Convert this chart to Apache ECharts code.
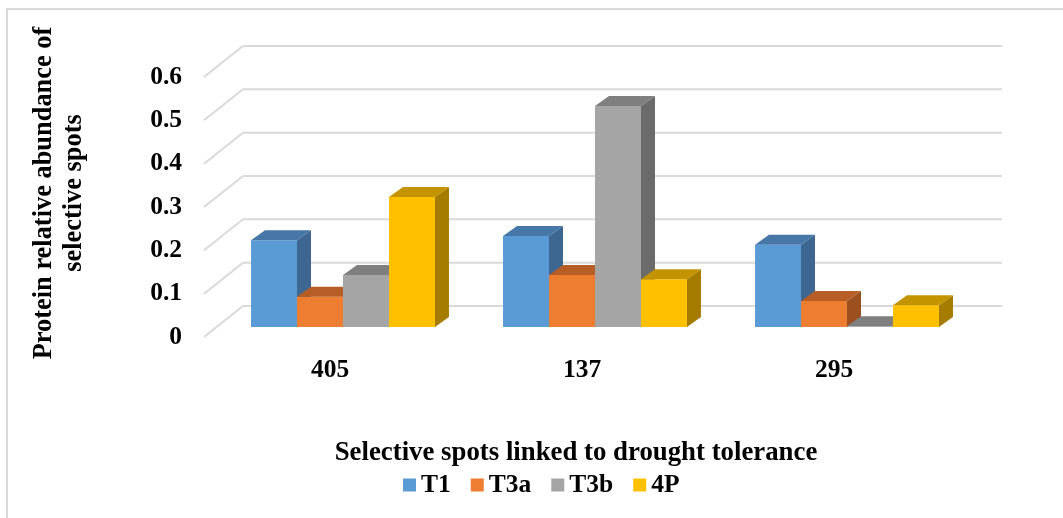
<!DOCTYPE html>
<html>
<head>
<meta charset="utf-8">
<script src="https://cdn.jsdelivr.net/npm/echarts@6/dist/echarts.min.js"></script>
<style>html,body{margin:0;padding:0;background:#fff}#c{width:1063px;height:518px}</style>
</head>
<body>
<div id="c"></div>
<script>
const categories = ['405', '137', '295'];
const seriesNames = ['T1', 'T3a', 'T3b', '4P'];
const T1 = [0.20, 0.21, 0.19];
const T3a = [0.07, 0.12, 0.06];
const T3b = [0.12, 0.51, 0.002];
const P4 = [0.30, 0.11, 0.05];
const yTicks = [0, 0.1, 0.2, 0.3, 0.4, 0.5, 0.6];

const values = [T1, T3a, T3b, P4];
const frontColors = ['#5b9bd5', '#ed7d31', '#a5a5a5', '#ffc000'];
const topColors = ['#4677a6', '#b65e25', '#7f7f7f', '#c49300'];
const sideColors = ['#3d6690', '#9c501f', '#6b6b6b', '#a67c00'];

const FONT = '"Liberation Serif", "Times New Roman", serif';
const FX = 13, FY = -10;   // bar front-face offset from the front plane
const DX = 14, DY = -10;   // bar depth
const WX = 39, WY = -31;   // back-wall offset
const GROUP = 0.73;

const chart = echarts.init(document.getElementById('c'));

function barRender(si) {
  return function (params, api) {
    const ci = api.value(0), v = api.value(1);
    const base = api.coord([ci, 0]);
    const top = api.coord([ci, v]);
    const band = api.size([1, 0])[0];
    const gw = band * GROUP, bw = gw / 4;
    const x1 = base[0] - gw / 2 + si * bw + FX, x2 = x1 + bw;
    const yb = base[1] + FY, yt = top[1] + FY;
    return {
      type: 'group',
      children: [
        { type: 'polygon', shape: { points: [[x2, yt], [x2 + DX, yt + DY], [x2 + DX, yb + DY], [x2, yb]] }, style: { fill: sideColors[si] } },
        { type: 'rect', shape: { x: x1, y: yt, width: bw, height: yb - yt }, style: { fill: frontColors[si] } },
        { type: 'polygon', shape: { points: [[x1, yt], [x2, yt], [x2 + DX, yt + DY], [x1 + DX, yt + DY]] }, style: { fill: topColors[si] } }
      ]
    };
  };
}

const series = [{
  type: 'custom',
  name: 'grid',
  silent: true,
  z: 1,
  data: yTicks.map(v => [0, v]),
  encode: { x: 0, y: 1 },
  renderItem: function (params, api) {
    const cs = params.coordSys;
    const p = api.coord([0, api.value(1)]);
    const x0 = cs.x, y = p[1];
    const st = { stroke: '#d9d9d9', lineWidth: 2 };
    return {
      type: 'group',
      children: [
        { type: 'line', shape: { x1: x0, y1: y, x2: x0 + WX, y2: y + WY }, style: st },
        { type: 'line', shape: { x1: x0 + WX, y1: y + WY, x2: x0 + cs.width + WX + 3, y2: y + WY }, style: st }
      ]
    };
  }
}];

seriesNames.forEach((n, si) => {
  series.push({
    type: 'custom',
    name: n,
    z: 2 + si,
    itemStyle: { color: frontColors[si] },
    data: values[si].map((v, ci) => [ci, v]),
    encode: { x: 0, y: 1 },
    renderItem: barRender(si)
  });
});

chart.setOption({
  animation: false,
  color: frontColors,
  grid: { left: 204, right: 103, top: 77, bottom: 181 },
  xAxis: {
    type: 'category',
    data: categories,
    axisLine: { show: false },
    axisTick: { show: false },
    splitLine: { show: false },
    axisLabel: { margin: 20, color: '#000', fontFamily: FONT, fontWeight: 'bold', fontSize: 25.5 }
  },
  yAxis: {
    type: 'value',
    min: 0, max: 0.6, interval: 0.1,
    axisLine: { show: false },
    axisTick: { show: false },
    splitLine: { show: false },
    axisLabel: { margin: 22, color: '#000', fontFamily: FONT, fontWeight: 'bold', fontSize: 25.5 }
  },
  legend: {
    data: seriesNames,
    left: 398, top: 467,
    icon: 'rect', itemWidth: 13, itemHeight: 13, itemGap: 20,
    textStyle: { color: '#000', fontFamily: FONT, fontWeight: 'bold', fontSize: 25.5 }
  },
  graphic: [
    { type: 'rect', shape: { x: 7, y: 9, width: 1100, height: 600 }, style: { fill: null, stroke: '#d9d9d9', lineWidth: 2 }, silent: true },
    { type: 'text', x: 576, y: 453, style: { text: 'Selective spots linked to drought tolerance', fill: '#000', font: 'bold 26.8px ' + FONT, textAlign: 'center', textVerticalAlign: 'middle' } },
    { type: 'text', x: 59, y: 193, rotation: Math.PI / 2, style: { text: 'Protein relative abundance of\nselective spots', fill: '#000', font: 'bold 26.4px ' + FONT, lineHeight: 30, textAlign: 'center', textVerticalAlign: 'middle' } }
  ],
  series: series
});
</script>
</body>
</html>
